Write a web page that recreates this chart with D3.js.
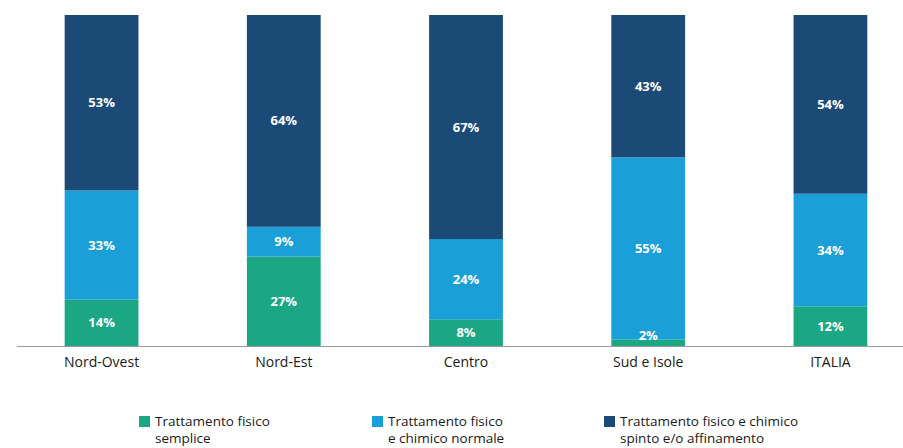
<!DOCTYPE html>
<html>
<head>
<meta charset="utf-8">
<script src="https://cdn.jsdelivr.net/npm/d3@7"></script>
<style>
  body { margin: 0; background: #fff; }
  svg { display: block; font-family: "Open Sans", sans-serif; }
</style>
</head>
<body>
<div id="chart"></div>
<script>
// dati
let regions = ["Nord-Ovest", "Nord-Est", "Centro", "Sud e Isole", "ITALIA"];
let semplice = [14, 27, 8, 2, 12];
let normale = [33, 9, 24, 55, 34];
let spinto = [53, 64, 67, 43, 54];
let seriesNames = ["Trattamento fisico\nsemplice", "Trattamento fisico\ne chimico normale", "Trattamento fisico e chimico\nspinto e/o affinamento"];
let colors = ["#1ba784", "#1b9fd8", "#1c4a77"];

let width = 903, height = 448;
let keys = ["semplice", "normale", "spinto"];
let rows = regions.map(function(r, i) {
  return { region: r, semplice: semplice[i], normale: normale[i], spinto: spinto[i] };
});

let svg = d3.select("#chart")
  .append("svg")
  .attr("width", width)
  .attr("height", height);

let x = d3.scaleBand()
  .domain(regions)
  .range([10, 922])
  .paddingInner(0.595)
  .paddingOuter(0.3);

let y = d3.scaleLinear()
  .domain([0, 1])
  .range([346, 15]);

// normalizza a 100%
let stacked = d3.stack()
  .keys(keys)
  .offset(d3.stackOffsetExpand)(rows);

let layer = svg.selectAll("g.layer")
  .data(stacked)
  .enter().append("g")
  .attr("class", "layer")
  .attr("fill", function(d, i) { return colors[i]; });

layer.selectAll("rect")
  .data(function(d) { return d; })
  .enter().append("rect")
  .attr("x", function(d) { return x(d.data.region); })
  .attr("width", x.bandwidth())
  .attr("y", function(d) { return y(d[1]); })
  .attr("height", function(d) { return y(d[0]) - y(d[1]); });

// etichette percentuali (sopra tutti i rettangoli)
let labels = svg.append("g");
stacked.forEach(function(s) {
  labels.selectAll("text.l-" + s.key)
    .data(s)
    .enter().append("text")
    .attr("class", "l-" + s.key)
    .attr("x", function(d) { return x(d.data.region) + x.bandwidth() / 2; })
    .attr("y", function(d) {
      let h = y(d[0]) - y(d[1]);
      let mid = (y(d[0]) + y(d[1])) / 2;
      if (h < 20) mid = y(d[0]) - 11;
      return mid;
    })
    .attr("dy", "0.35em")
    .attr("text-anchor", "middle")
    .attr("fill", "#fff")
    .attr("font-weight", 700)
    .attr("font-size", 13)
    .text(function(d) { return d.data[s.key] + "%"; });
});

// asse
svg.append("line")
  .attr("x1", 17).attr("x2", 903)
  .attr("y1", 346.5).attr("y2", 346.5)
  .attr("stroke", "#9a9a9a")
  .attr("stroke-width", 1);

svg.append("g")
  .selectAll("text")
  .data(regions)
  .enter().append("text")
  .attr("x", function(d) { return x(d) + x.bandwidth() / 2; })
  .attr("y", 367)
  .attr("text-anchor", "middle")
  .attr("font-size", 14)
  .attr("fill", "#1a1a1a")
  .text(function(d) { return d; });

// legenda
let legendX = [139, 372, 604];
let legend = svg.append("g")
  .selectAll("g")
  .data(seriesNames)
  .enter().append("g")
  .attr("transform", function(d, i) { return "translate(" + legendX[i] + ",416)"; });

legend.append("rect")
  .attr("width", 11)
  .attr("height", 11)
  .attr("fill", function(d, i) { return colors[i]; });

legend.append("text")
  .attr("x", 16)
  .attr("y", 10)
  .attr("font-size", 13.5)
  .attr("fill", "#1a1a1a")
  .selectAll("tspan")
  .data(function(d) { return d.split("\n"); })
  .enter().append("tspan")
  .attr("x", 16)
  .attr("dy", function(d, i) { return i ? 17 : 0; })
  .text(function(d) { return d; });
</script>
</body>
</html>
